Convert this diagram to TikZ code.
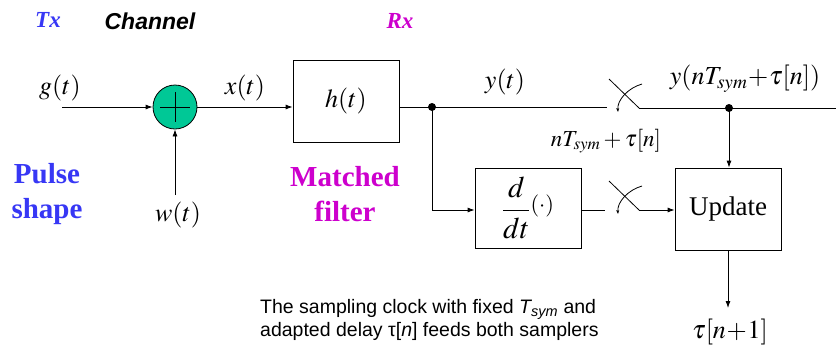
\documentclass[tikz,border=0pt]{standalone}
\usepackage{amsmath}
\usepackage{mathptmx}
\usepackage{fontspec}
\setmainfont{Liberation Serif}
\newfontfamily\arialfont{Liberation Sans}
\usetikzlibrary{arrows.meta,calc}
\definecolor{txblue}{RGB}{55,55,245}
\definecolor{rxmag}{RGB}{205,0,205}
\definecolor{addgreen}{RGB}{0,200,150}
\begin{document}
\begin{tikzpicture}[x=1pt,y=-1pt]
		\tikzset{block/.style = {draw, thick, minimum width=106pt, inner sep=0pt}}
		\tikzset{edge/.style = {-{Latex[length=7pt,width=5pt]}, thick}}
		\tikzset{sig/.style = {font=\fontsize{26}{29}\selectfont, inner sep=0pt}}
		\tikzset{title/.style = {font=\fontsize{23}{26}\selectfont\bfseries\itshape}}
		\tikzset{part/.style = {font=\fontsize{29}{35}\selectfont\bfseries, align=center}}
		\useasboundingbox (0,0) rectangle (836,349);
		% headings
		\node[title, txblue] (tx) at (48,20) {Tx};
		\node[title, font=\fontsize{23}{26}\selectfont\arialfont\bfseries\itshape] (ch) at (150,21) {Channel};
		\node[title, rxmag] (rx) at (400,21) {Rx};
		\node[part, txblue] (pulse) at (47,194) {Pulse\\shape};
		\node[part, rxmag] (mf) at (345,194) {Matched\\filter};
		% blocks
		\node[circle, draw, thick, fill=addgreen, minimum size=44pt, inner sep=0pt] (add) at (175,107) {};
		\draw[thick] ($(add)+(0,-15)$) -- ($(add)+(0,15)$) ($(add)+(-15,0)$) -- ($(add)+(15,0)$);
		\node[block, minimum height=82pt] (filt) at (346,101) {};
		\node[sig] at (filt) {$h(t)$};
		\node[block, minimum height=80pt] (diff) at (528,208) {};
		\node[sig, font=\fontsize{30}{33}\selectfont] at (diff) {$\dfrac{d}{dt}\raisebox{7pt}{$\scriptstyle(\cdot)$}$};
		\node[block, minimum height=82pt] (upd) at (728,209) {};
		\node[sig, font=\fontsize{27}{30}\selectfont] at (upd) {Update};
		% points
		\coordinate (g) at (62,107);
		\coordinate (w) at (175,195);
		\coordinate (j1) at (432,107);
		\coordinate (j2) at (729,108);
		\coordinate (s1) at (607,107);
		\coordinate (s1b) at (639,108);
		\coordinate (s2) at (605,210);
		\coordinate (s2b) at (639,210);
		\coordinate (out) at (836,108);
		\coordinate (tnext) at (728,308);
		% labels
		\node[sig] (gl) at (60,88) {$g(t)$};
		\node[sig] (xl) at (245,88) {$x(t)$};
		\node[sig] (wl) at (178,215) {$w(t)$};
		\node[sig] (yl) at (505,82) {$y(t)$};
		\node[sig] (ys) at (745,79) {$y(nT_{sym}\!+\!\tau[n])$};
		\node[sig, font=\fontsize{23}{26}\selectfont] (ts) at (606,141) {$nT_{sym}+\tau[n]$};
		\node[sig] (tl) at (730,332) {$\tau[n\!+\!1]$};
		\node[font=\fontsize{19.5}{23}\selectfont\arialfont, align=left, anchor=west, inner sep=0pt] (note) at (260,320)
			{The sampling clock with fixed \textit{T\textsubscript{sym}} and\\adapted delay τ[\textit{n}] feeds both samplers};
		% connections
		\draw[edge] (g) -- (add);
		\draw[edge] (w) -- (add);
		\draw[edge] (add) -- (add -| filt.west);
		\draw[thick] (filt.east |- j1) -- (s1);
		\draw[thick] (s1b) -- (out);
		\draw[edge] (j1) |- (diff.west |- s2);
		\draw[thick] (diff.east |- s2) -- (s2);
		\draw[edge] (s2b) -- (upd.west |- s2b);
		\draw[edge] (j2) -- (upd.north -| j2);
		\draw[edge] (upd) -- (tnext);
		\fill (j1) circle (4pt) (j2) circle (4pt);
		% samplers
		\foreach \sw in {s1b, s2b} {
			\draw[thick] ($(\sw)+(-30,-29)$) -- (\sw);
		}
		\draw[thick, -{Stealth[length=4pt]}] (642,84) .. controls (628,88) and (617,100) .. (618,112);
		\draw[thick, -{Stealth[length=4pt]}] (642,186) .. controls (628,190) and (617,202) .. (618,214);
\end{tikzpicture}
\end{document}
